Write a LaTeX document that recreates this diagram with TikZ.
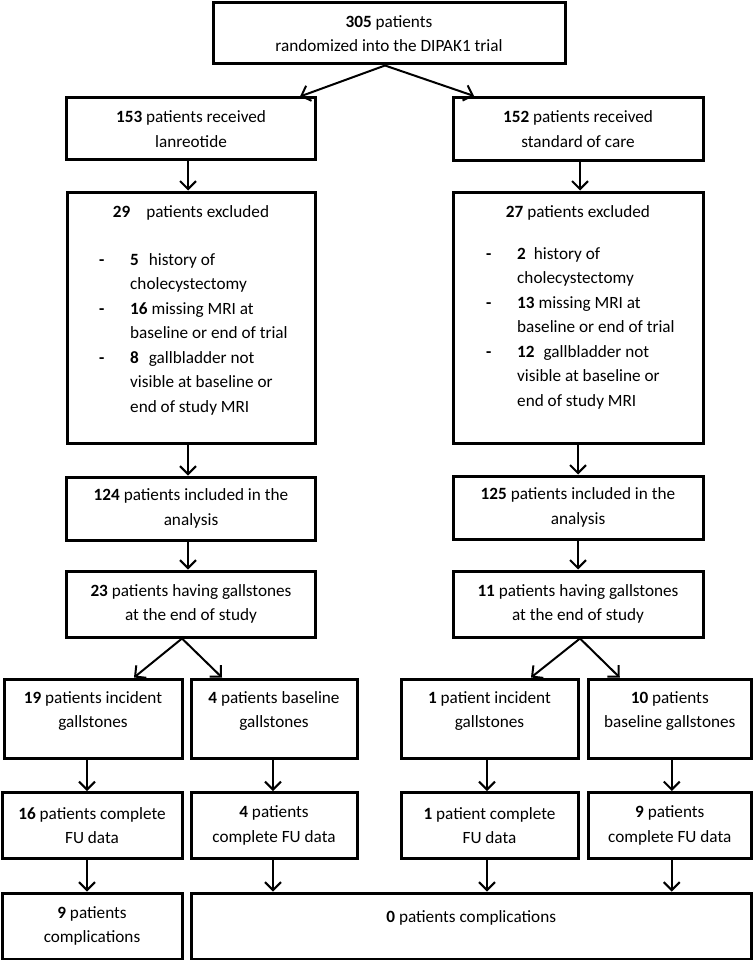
\documentclass[tikz,border=0pt]{standalone}
\usepackage{fontspec}
\setmainfont{Carlito}
\usetikzlibrary{arrows.meta}
\newcommand{\padlow}{\rule[-18pt]{0pt}{1pt}}

\begin{document}
\begin{tikzpicture}[x=1pt, y=-1pt,
  box/.style = {draw, line width=3pt, align=center, inner sep=2pt, font=\fontsize{17.2}{24.4}\selectfont},
  item/.style = {anchor=base west, inner sep=0pt, font=\fontsize{17.2}{24.4}\selectfont},
  arr/.style = {line width=2pt, -{Straight Barb[length=8pt, width=16pt]}}]
\useasboundingbox[fill=white] (0,0) rectangle (753,960);

\node[box, minimum width=352, minimum height=61] (rand) at (389,33.5) {\textbf{305} patients\\randomized into the DIPAK1 trial};
\node[box, minimum width=249, minimum height=62] (lanr) at (191,129) {\textbf{153} patients received\\lanreotide};
\node[box, minimum width=250, minimum height=63] (soc) at (578,129) {\textbf{152} patients received\\standard of care};

\node[box, minimum width=248, minimum height=251] (exclL) at (191,317.5) {};
\node[box, minimum width=250, minimum height=251] (exclR) at (578,317.5) {};
\node[item, anchor=base] (exclLt) at (191,217) {\textbf{29}\hspace{16pt}patients excluded};
\node[item, anchor=base] (exclRt) at (578,217) {\textbf{27} patients excluded};
\foreach \txt [count=\i from 0] in {{\textbf{5}\hspace{10pt}history of}, cholecystectomy, {\textbf{16} missing MRI at}, baseline or end of trial, {\textbf{8}\hspace{10pt}gallbladder not}, visible at baseline or, end of study MRI}
   \node[item] (exL\i) at (130, 265+24.5*\i) {\txt};
\foreach \txt [count=\i from 0] in {{\textbf{2}\hspace{8pt}history of}, cholecystectomy, {\textbf{13} missing MRI at}, baseline or end of trial, {\textbf{12}\hspace{9pt}gallbladder not}, visible at baseline or, end of study MRI}
   \node[item] (exR\i) at (517, 259+24.5*\i) {\txt};
\foreach \i in {0,2,4}{
   \node[item] (dashL\i) at (99, 265+24.5*\i) {\textbf{-}};
   \node[item] (dashR\i) at (486, 259+24.5*\i) {\textbf{-}};
   }

\node[box, minimum width=249, minimum height=63] (inclL) at (191,508.5) {\textbf{124} patients included in the\\analysis};
\node[box, minimum width=250, minimum height=63] (inclR) at (578,507.5) {\textbf{125} patients included in the\\analysis};
\node[box, minimum width=249, minimum height=66] (gsL) at (191,604) {\textbf{23} patients having gallstones\\at the end of study};
\node[box, minimum width=250, minimum height=66] (gsR) at (578,604) {\textbf{11} patients having gallstones\\at the end of study};

\node[box, minimum width=178, minimum height=79] (incL) at (93,718.5) {\textbf{19} patients incident\\gallstones\padlow};
\node[box, minimum width=166, minimum height=79] (baseL) at (274,718.5) {\textbf{4} patients baseline\\gallstones\padlow};
\node[box, minimum width=177, minimum height=79] (incR) at (489.5,718.5) {\textbf{1} patient incident\\gallstones\padlow};
\node[box, minimum width=163.5, minimum height=79] (baseR) at (669.75,718.5) {\textbf{10} patients\\baseline gallstones\padlow};

\node[box, minimum width=180, minimum height=66] (fuIncL) at (92,825.5) {\textbf{16} patients complete\\FU data};
\node[box, minimum width=166, minimum height=66] (fuBaseL) at (274,825.5) {\textbf{4} patients\\complete FU data};
\node[box, minimum width=177, minimum height=66] (fuIncR) at (489.5,825.5) {\textbf{1} patient complete\\FU data};
\node[box, minimum width=163.5, minimum height=66] (fuBaseR) at (669.75,825.5) {\textbf{9} patients\\complete FU data};

\node[box, minimum width=180, minimum height=66] (compL) at (92,926) {\textbf{9} patients\\complications};
\node[box, minimum width=560.5, minimum height=66] (compNone) at (471.25,926) {\textbf{0} patients complications\padlow};

\draw[arr] ([xshift=-4]rand.south) -- ([xshift=109]lanr.north);
\draw[arr] ([xshift=-4]rand.south) -- ([xshift=-104]soc.north);
\draw[arr] ([xshift=-3]lanr.south) -- ([xshift=-3]exclL.north);
\draw[arr] ([xshift=2]soc.south) -- ([xshift=2]exclR.north);
\draw[arr] ([xshift=-3]exclL.south) -- ([xshift=-3]inclL.north);
\draw[arr] (exclR.south) -- (inclR.north);
\draw[arr] ([xshift=-3]inclL.south) -- ([xshift=-3]gsL.north);
\draw[arr] (inclR.south) -- (gsR.north);

\draw[arr] ([xshift=-9]gsL.south) -- ([xshift=41]incL.north);
\draw[arr] ([xshift=-9]gsL.south) -- ([xshift=-52]baseL.north);
\draw[arr] ([xshift=2]gsR.south) -- ([xshift=41.5]incR.north);
\draw[arr] ([xshift=2]gsR.south) -- ([xshift=-50]baseR.north);

\draw[arr] ([xshift=-6]incL.south) -- ([xshift=-5]fuIncL.north);
\draw[arr] ([xshift=-1]baseL.south) -- ([xshift=-1]fuBaseL.north);
\draw[arr] ([xshift=-2.5]incR.south) -- ([xshift=-2.5]fuIncR.north);
\draw[arr] ([xshift=2]baseR.south) -- ([xshift=2]fuBaseR.north);

\draw[arr] ([xshift=-5]fuIncL.south) -- ([xshift=-5]compL.north);
\foreach \n/\dx in {fuBaseL/-1, fuIncR/-2.5, fuBaseR/2}
   \draw[arr] ([xshift=\dx]\n.south) -- ([xshift=\dx]\n.south |- compNone.north);

\end{tikzpicture}
\end{document}
